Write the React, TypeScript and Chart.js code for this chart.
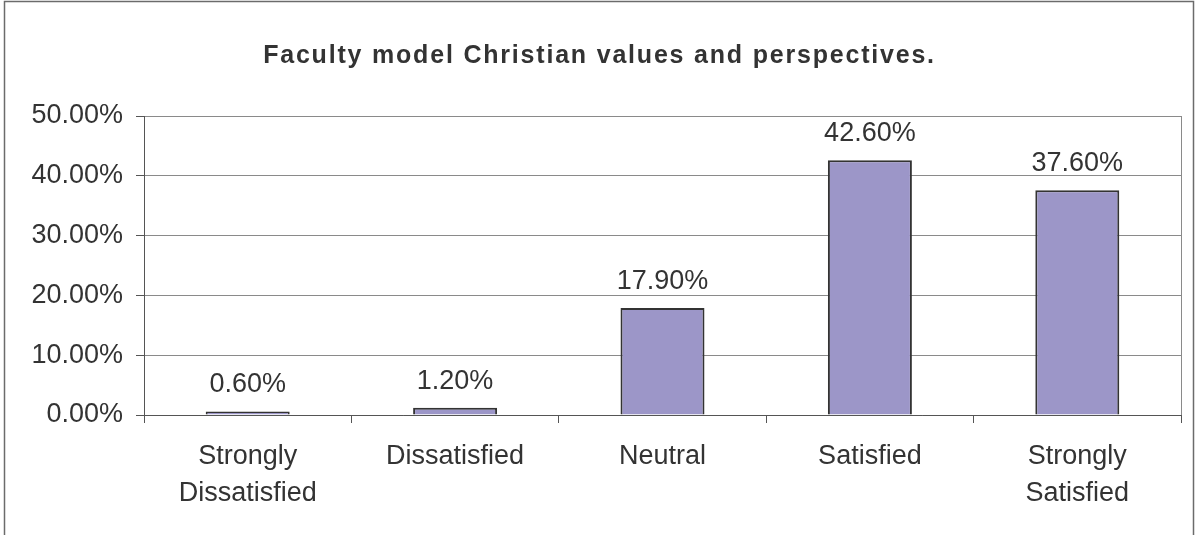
import React, { useEffect, useRef } from 'react';
import { Chart, registerables } from 'chart.js';

Chart.register(...registerables);

const TITLE = 'Faculty model Christian values and perspectives.';
const categories: (string | string[])[] = [
  ['Strongly', 'Dissatisfied'],
  'Dissatisfied',
  'Neutral',
  'Satisfied',
  ['Strongly', 'Satisfied'],
];
const values = [0.6, 1.2, 17.9, 42.6, 37.6];
const yMin = 0;
const yMax = 50;
const yStep = 10;

const FONT = '"Liberation Sans", Arial, Helvetica, sans-serif';
const TEXT = '#333333';
const AXIS = '#555555';
const GRID = '#8a8a8a';
const BAR_FILL = '#9c96c8';
const BAR_EDGE = '#333333';

const fmt = (v: number) => v.toFixed(2) + '%';

const framePlugin = {
  id: 'frame',
  beforeDraw(chart: any) {
    const ctx = chart.ctx;
    ctx.save();
    ctx.fillStyle = '#ffffff';
    ctx.fillRect(0, 0, chart.width, chart.height);
    ctx.strokeStyle = '#6b6b6b';
    ctx.lineWidth = 1.5;
    ctx.strokeRect(4.5, 1.5, chart.width - 10, chart.height + 20);
    // title, drawn with Excel-like letter spacing
    ctx.font = `bold 25px ${FONT}`;
    ctx.fillStyle = TEXT;
    ctx.textAlign = 'center';
    ctx.textBaseline = 'middle';
    (ctx as any).letterSpacing = '1.8px';
    ctx.fillText(TITLE, chart.width / 2, 56);
    (ctx as any).letterSpacing = '0px';
    ctx.restore();
  },
  beforeDatasetsDraw(chart: any) {
    const { ctx, chartArea } = chart;
    ctx.save();
    ctx.strokeStyle = GRID;
    ctx.lineWidth = 1;
    ctx.beginPath();
    ctx.moveTo(Math.round(chartArea.right) + 0.5, chartArea.top);
    ctx.lineTo(Math.round(chartArea.right) + 0.5, chartArea.bottom);
    ctx.stroke();
    ctx.restore();
  },
};

const labelPlugin = {
  id: 'barLabels',
  afterDatasetsDraw(chart: any) {
    const ctx = chart.ctx;
    const meta = chart.getDatasetMeta(0);
    ctx.save();
    ctx.font = `27px ${FONT}`;
    ctx.fillStyle = TEXT;
    ctx.textAlign = 'center';
    ctx.textBaseline = 'alphabetic';
    meta.data.forEach((el: any, i: number) => {
      ctx.fillText(fmt(values[i]), el.x, el.y - 19);
    });
    ctx.restore();
  },
};

export default function App() {
  const ref = useRef<HTMLCanvasElement>(null);

  useEffect(() => {
    if (!ref.current) return;
    const chart = new Chart(ref.current, {
      type: 'bar',
      data: {
        labels: categories,
        datasets: [
          {
            data: values,
            backgroundColor: BAR_FILL,
            borderColor: BAR_EDGE,
            borderWidth: 2,
            categoryPercentage: 1,
            barPercentage: 0.405,
          },
        ],
      },
      options: {
        animation: false,
        responsive: false,
        layout: { padding: { left: 12, right: 18, top: 116, bottom: 0 } },
        plugins: {
          legend: { display: false },
          tooltip: { enabled: false },
          title: { display: false },
        },
        scales: {
          x: {
            offset: true,
            grid: {
              offset: true,
              drawOnChartArea: false,
              drawTicks: true,
              tickLength: 8,
              tickColor: AXIS,
            },
            border: { color: AXIS, width: 1 },
            ticks: {
              color: TEXT,
              font: { family: FONT, size: 27, lineHeight: 1.37 },
              padding: 15,
              maxRotation: 0,
              autoSkip: false,
            },
            afterFit(scale: any) {
              scale.height = 120;
            },
          },
          y: {
            min: yMin,
            max: yMax,
            grid: {
              color: GRID,
              tickColor: AXIS,
              tickLength: 8,
            },
            border: { color: AXIS, width: 1 },
            ticks: {
              stepSize: yStep,
              color: TEXT,
              font: { family: FONT, size: 27 },
              padding: 13,
              callback: (v: any) => fmt(Number(v)),
            },
            afterFit(scale: any) {
              scale.width = 132;
            },
          },
        },
      },
      plugins: [framePlugin, labelPlugin],
    });
    return () => chart.destroy();
  }, []);

  return (
    <div style={{ position: 'fixed', left: 0, top: 0, width: 1199, height: 535, background: '#fff' }}>
      <canvas ref={ref} width={1199} height={535} style={{ display: 'block' }} />
    </div>
  );
}
